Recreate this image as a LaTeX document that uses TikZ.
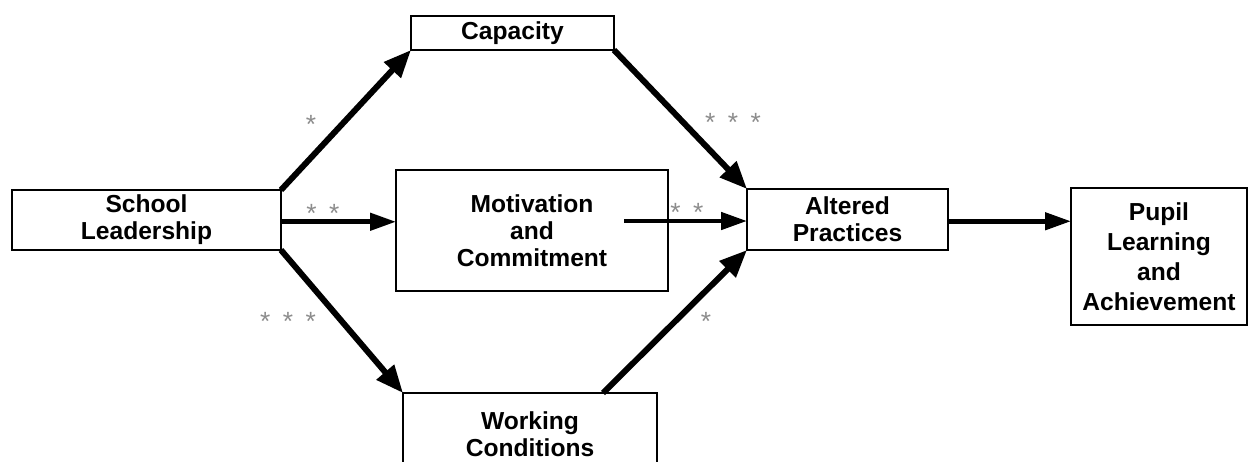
\documentclass[tikz,border=0pt]{standalone}
\usepackage{fontspec}
\setmainfont{Liberation Sans}
\usetikzlibrary{arrows.meta}

\tikzset{
  box/.style={draw, line width=1.3pt, inner sep=0pt, outer sep=0pt,
    align=center, font=\fontsize{14}{15.3}\selectfont\bfseries},
  thick arrow/.style={line width=3.4pt, -{Triangle[length=0.55cm, width=0.44cm]}},
  flat arrow/.style={line width=2.6pt, -{Triangle[length=0.52cm, width=0.34cm]}},
  stars/.style={text=black!45, anchor=base, inner sep=0pt,
    font=\fontsize{15}{15}\selectfont}
}
\newcommand{\stargap}{\hspace{2.5mm}}

\begin{document}
\begin{tikzpicture}[x=0.02cm, y=-0.02cm]
    \useasboundingbox (0,0) rectangle (1249,461);
    \clip (0,0) rectangle (1249,461);

    % boxes
    \node[box, minimum width=5.38cm, minimum height=1.2cm] (lead) at (146.5,220) {School\\Leadership};
    \node[box, minimum width=4.06cm, minimum height=0.68cm] (capac) at (512.5,33) {Capacity};
    \node[box, minimum width=5.44cm, minimum height=2.42cm] (motiv) at (532,230.5) {Motivation\\and\\Commitment};
    \node[box, minimum width=5.08cm, minimum height=1.64cm] (work) at (530,434) {Working\\Conditions};
    \node[box, minimum width=4.02cm, minimum height=1.22cm] (alter) at (847.5,219.5) {Altered\\Practices};
    \node[box, minimum width=3.52cm, minimum height=2.74cm,
      font=\fontsize{14}{17}\selectfont\bfseries] (pupil) at (1159,256.5) {Pupil\\Learning\\and\\Achievement};

    \coordinate (motivout) at (624,221);
    \coordinate (workout) at (603,393);

    % paths
    \draw[thick arrow] (lead.north east) -- (capac.south west);
    \draw[flat arrow] ([yshift=-1pt]lead.east) -- ([yshift=-1pt]lead.east -| motiv.west);
    \draw[thick arrow] (lead.south east) -- (work.north west);
    \draw[thick arrow] (capac.south east) -- (alter.north west);
    \draw[flat arrow] (motivout) -- (motivout -| alter.west);
    \draw[thick arrow] (workout) -- (alter.south west);
    \draw[flat arrow] ([yshift=-1pt]alter.east) -- ([yshift=-1pt]alter.east -| pupil.west);

    % significance
    \node[stars] (s1) at (311,133) {*};
    \node[stars] (s2) at (323,222) {*\stargap*};
    \node[stars] (s3) at (288,330) {*\stargap*\stargap*};
    \node[stars] (s4) at (733,131) {*\stargap*\stargap*};
    \node[stars] (s5) at (687,221) {*\stargap*};
    \node[stars] (s6) at (706,330) {*};
\end{tikzpicture}
\end{document}
